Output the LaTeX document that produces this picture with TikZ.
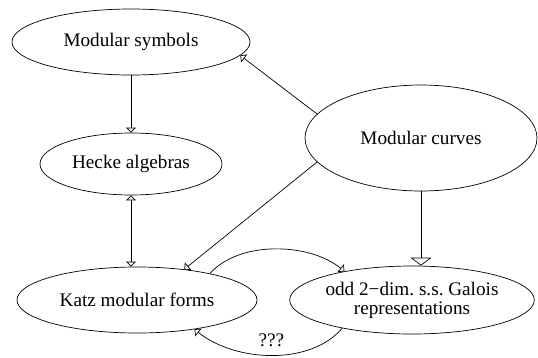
\documentclass[tikz,border=0pt]{standalone}
\usepackage{fontspec}
\setmainfont{Liberation Serif}
\usetikzlibrary{shapes.geometric,arrows.meta}
\begin{document}
\begin{tikzpicture}[x=1pt,y=-1pt,
  txt/.style={font=\fontsize{19.2}{19}\selectfont},
  ell/.style={draw,ellipse,inner sep=0pt,txt,align=center,line width=0.7pt},
  conn/.style={line width=0.7pt,-{Triangle[open,length=5pt,width=10pt]}},
  bothconn/.style={line width=0.7pt,{Triangle[open,length=5pt,width=10pt]}-{Triangle[open,length=5pt,width=10pt]}},
  bigconn/.style={line width=0.7pt,-{Triangle[open,length=8pt,width=21pt]}}]
\useasboundingbox (0,0) rectangle (538,357);
\node[ell,minimum width=238pt,minimum height=66pt] (ms) at (131,42) {Modular symbols};
\node[ell,minimum width=182pt,minimum height=62pt] (ha) at (131,164) {Hecke algebras};
\node[ell,minimum width=232pt,minimum height=106pt] (mc) at (421,138) {Modular curves};
\node[ell,minimum width=240pt,minimum height=66pt] (kf) at (137,300) {Katz modular forms};
\node[ell,minimum width=240pt,minimum height=68pt] (od) at (412,300) {odd 2−dim.\ s.s.\ Galois\\representations};
\draw[conn] (ms.south) -- (ha.north);
\draw[bothconn] (ha.south) -- (ha.south |- kf.north);
\draw[conn] (mc.167) -- (ms.-7);
\draw[conn] (mc.193) -- (kf.33);
\draw[bigconn] (mc.south) -- (mc.south |- od.north);
\draw[conn] (kf.20) .. controls (240,240) and (310,243) .. (od.157);
\draw[conn] (od.202) .. controls (310,366) and (235,362) .. node[pos=0.5,above=5pt,txt] (q) {???} (kf.-27);
\end{tikzpicture}
\end{document}
